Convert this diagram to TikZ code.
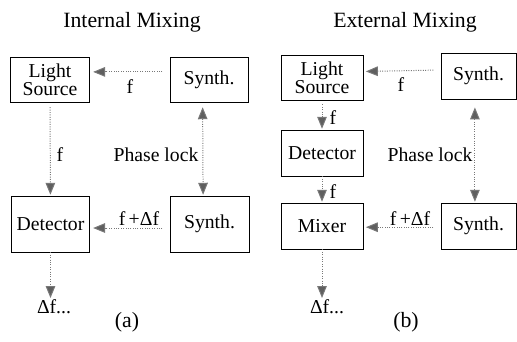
\documentclass[tikz,border=0pt]{standalone}
\usepackage{fontspec}
\setmainfont{Liberation Serif}
\newfontfamily\figfont{Liberation Serif}
\usepackage{tikz}
\usetikzlibrary{arrows.meta, positioning, calc}
\definecolor{mygray}{RGB}{120,120,120}
\definecolor{tipgray}{RGB}{95,95,95}
\tikzset{
  box/.style={rectangle, draw=black, line width=0.6pt, inner sep=0pt,
    align=center, font=\figfont\fontsize{14}{12.5}\selectfont},
  lbl/.style={inner sep=1pt, font=\figfont\fontsize{14}{15}\selectfont},
  ttl/.style={inner sep=1pt, font=\figfont\fontsize{15.5}{17}\selectfont},
  arrow/.style={-{Triangle[length=0.3cm, width=0.24cm, fill=tipgray]},
    densely dotted, line width=0.7pt, color=mygray},
  dblarrow/.style={{Triangle[length=0.3cm, width=0.24cm, fill=tipgray]}-{Triangle[length=0.3cm, width=0.24cm, fill=tipgray]},
    densely dotted, line width=0.7pt, color=mygray}
}
\begin{document}
\begin{tikzpicture}[x=0.025cm, y=-0.025cm]
  \useasboundingbox (0,0) rectangle (517,341);

  % (a) internal mixing
  \node[ttl] (t1) at (132,22) {Internal Mixing};
  \node[box, minimum width=1.975cm, minimum height=1.125cm] (ls1) at (50,79.5) {Light\\Source};
  \node[box, minimum width=1.95cm, minimum height=1.125cm] (syn1) at (209,79.5) {Synth.};
  \node[box, minimum width=1.95cm, minimum height=1.4cm] (det1) at (50.5,224) {Detector};
  \node[box, minimum width=1.975cm, minimum height=1.4cm] (syn2) at (209.5,224) {Synth.};
  \node[lbl] (f1) at (130,87) {f};
  \node[lbl] (f2) at (60,155) {f};
  \node[lbl] (pl1) at (156,155) {Phase lock};
  \node[lbl] (df1) at (139,219) {f\,+Δf};
  \node[lbl, anchor=north] (out1) at (54,298) {Δf...};
  \node[ttl] (a) at (127,322) {(a)};

  \draw[arrow, shorten <=0.18cm, shorten >=0.08cm] ([yshift=0.19cm]syn1.west) -- ([yshift=0.19cm]ls1.east);
  \draw[arrow, shorten <=0.12cm, shorten >=0.02cm] (ls1) -- (det1);
  \draw[dblarrow, shorten <=0.12cm, shorten >=0.02cm] ([xshift=-0.16cm]syn1.south) -- ([xshift=-0.16cm]syn2.north);
  \draw[arrow, shorten <=0.18cm, shorten >=0.08cm] ([yshift=-0.1cm]syn2.west) -- ([yshift=-0.1cm]det1.east);
  \draw[arrow] (det1.south) -- (det1.south |- out1.north);

  % (b) external mixing
  \node[ttl] (t2) at (405,22) {External Mixing};
  \node[box, minimum width=2.05cm, minimum height=1.125cm] (ls2) at (322,77.5) {Light\\Source};
  \node[box, minimum width=1.875cm, minimum height=1.15cm] (syn3) at (478.5,76) {Synth.};
  \node[box, minimum width=2.05cm, minimum height=1.15cm] (det2) at (322,153) {Detector};
  \node[box, minimum width=2.05cm, minimum height=1.15cm] (mix2) at (322,226) {Mixer};
  \node[box, minimum width=1.875cm, minimum height=1.15cm] (syn4) at (478.5,226) {Synth.};
  \node[lbl] (f3) at (401,85) {f};
  \node[lbl] (f4) at (333,118) {f};
  \node[lbl] (f5) at (333,192) {f};
  \node[lbl] (pl2) at (430,155) {Phase lock};
  \node[lbl] (df2) at (410,219) {f\,+Δf};
  \node[lbl, anchor=north] (out2) at (327,298) {Δf...};
  \node[ttl] (b) at (406,322) {(b)};

  \draw[arrow, shorten <=0.18cm, shorten >=0.06cm] ([yshift=0.15cm]syn3.west) -- ([yshift=0.15cm]ls2.east);
  \draw[arrow, shorten <=0.1cm, shorten >=0.02cm] (ls2) -- (det2);
  \draw[arrow, shorten >=0.02cm] (det2) -- (mix2);
  \draw[dblarrow, shorten <=0.2cm, shorten >=0.02cm] ([xshift=-0.09cm]syn3.south) -- ([xshift=-0.09cm]syn4.north);
  \draw[arrow, shorten <=0.18cm, shorten >=0.06cm] ([yshift=-0.03cm]syn4.west) -- ([yshift=-0.03cm]mix2.east);
  \draw[arrow] (mix2.south) -- (mix2.south |- out2.north);
\end{tikzpicture}
\end{document}
